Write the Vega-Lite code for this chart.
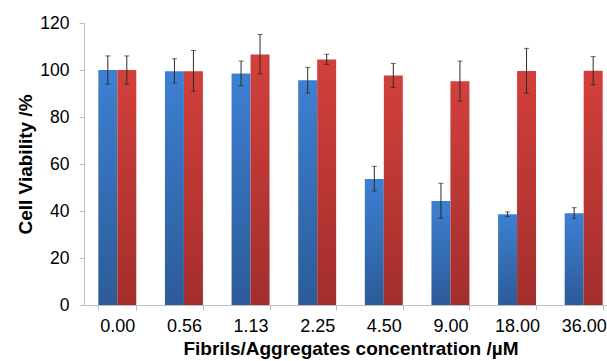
{
  "$schema": "https://vega.github.io/schema/vega-lite/v6.json",
  "autosize": {"type": "none"},
  "padding": {"left": 84, "top": 23, "right": 0, "bottom": 56},
  "width": 523,
  "height": 282,
  "background": "white",
  "config": {"view": {"stroke": null}, "font": "Liberation Sans"},
  "data": {
    "values": [
      {"conc": "0.00", "series": "Fibrils", "value": 100.0, "lo": 94.0, "hi": 106.0},
      {"conc": "0.00", "series": "Aggregates", "value": 100.0, "lo": 94.0, "hi": 106.0},
      {"conc": "0.56", "series": "Fibrils", "value": 99.5, "lo": 94.5, "hi": 104.8},
      {"conc": "0.56", "series": "Aggregates", "value": 99.5, "lo": 91.0, "hi": 108.3},
      {"conc": "1.13", "series": "Fibrils", "value": 98.5, "lo": 93.3, "hi": 103.8},
      {"conc": "1.13", "series": "Aggregates", "value": 106.6, "lo": 98.3, "hi": 115.1},
      {"conc": "2.25", "series": "Fibrils", "value": 95.6, "lo": 90.2, "hi": 101.1},
      {"conc": "2.25", "series": "Aggregates", "value": 104.5, "lo": 102.4, "hi": 106.7},
      {"conc": "4.50", "series": "Fibrils", "value": 53.6, "lo": 48.5, "hi": 59.0},
      {"conc": "4.50", "series": "Aggregates", "value": 97.7, "lo": 92.6, "hi": 102.8},
      {"conc": "9.00", "series": "Fibrils", "value": 44.3, "lo": 36.9, "hi": 51.8},
      {"conc": "9.00", "series": "Aggregates", "value": 95.2, "lo": 86.7, "hi": 103.8},
      {"conc": "18.00", "series": "Fibrils", "value": 38.6, "lo": 37.6, "hi": 39.6},
      {"conc": "18.00", "series": "Aggregates", "value": 99.6, "lo": 90.1, "hi": 109.2},
      {"conc": "36.00", "series": "Fibrils", "value": 39.0, "lo": 36.9, "hi": 41.4},
      {"conc": "36.00", "series": "Aggregates", "value": 99.7, "lo": 93.7, "hi": 105.7}
    ]
  },
  "encoding": {
    "x": {
      "field": "conc",
      "type": "ordinal",
      "sort": null,
      "scale": {"range": [0, 533], "paddingInner": 0.43, "paddingOuter": 0.215},
      "axis": {
        "title": "Fibrils/Aggregates concentration /µM",
        "titleFont": "Liberation Sans",
        "titleFontSize": 19,
        "titleFontWeight": "bold",
        "titleColor": "#000000",
        "titleX": 266.5,
        "titlePadding": 4,
        "labelFont": "Liberation Sans",
        "labelFontSize": 18,
        "labelColor": "#000000",
        "labelAngle": 0,
        "labelPadding": 7,
        "tickBand": "extent",
        "tickSize": 5,
        "tickColor": "#bfbfbf",
        "domainColor": "#bfbfbf",
        "grid": false
      }
    },
    "xOffset": {
      "field": "series",
      "type": "nominal",
      "scale": {"domain": ["Fibrils", "Aggregates"], "paddingInner": 0, "paddingOuter": 0}
    }
  },
  "layer": [
    {
      "transform": [{"filter": "datum.series === 'Fibrils'"}],
      "mark": {
        "type": "bar",
        "fill": {
          "gradient": "linear", "x1": 0, "y1": 0, "x2": 0, "y2": 1,
          "stops": [{"offset": 0, "color": "#3d80d2"}, {"offset": 1, "color": "#2c5b98"}]
        }
      },
      "encoding": {
        "y": {
          "field": "value",
          "type": "quantitative",
          "scale": {"domain": [0, 120]},
          "axis": {
            "title": "Cell Viability /%",
            "titleFont": "Liberation Sans",
            "titleFontSize": 19,
            "titleFontWeight": "bold",
            "titleColor": "#000000",
            "titlePadding": 4,
            "values": [0, 20, 40, 60, 80, 100, 120],
            "labelFont": "Liberation Sans",
            "labelFontSize": 17.5,
            "labelColor": "#000000",
            "labelPadding": 10,
            "tickSize": 5,
            "tickColor": "#bfbfbf",
            "domainColor": "#bfbfbf",
            "grid": false
          }
        }
      }
    },
    {
      "transform": [{"filter": "datum.series === 'Aggregates'"}],
      "mark": {
        "type": "bar",
        "fill": {
          "gradient": "linear", "x1": 0, "y1": 0, "x2": 0, "y2": 1,
          "stops": [{"offset": 0, "color": "#d2403c"}, {"offset": 1, "color": "#a22e2c"}]
        }
      },
      "encoding": {
        "y": {"field": "value", "type": "quantitative"}
      }
    },
    {
      "mark": {"type": "rule", "color": "#2a2a2a", "strokeWidth": 1},
      "encoding": {
        "y": {"field": "lo", "type": "quantitative"},
        "y2": {"field": "hi"}
      }
    },
    {
      "mark": {"type": "tick", "color": "#2a2a2a", "size": 5, "thickness": 1},
      "encoding": {
        "y": {"field": "lo", "type": "quantitative"}
      }
    },
    {
      "mark": {"type": "tick", "color": "#2a2a2a", "size": 5, "thickness": 1},
      "encoding": {
        "y": {"field": "hi", "type": "quantitative"}
      }
    }
  ]
}
